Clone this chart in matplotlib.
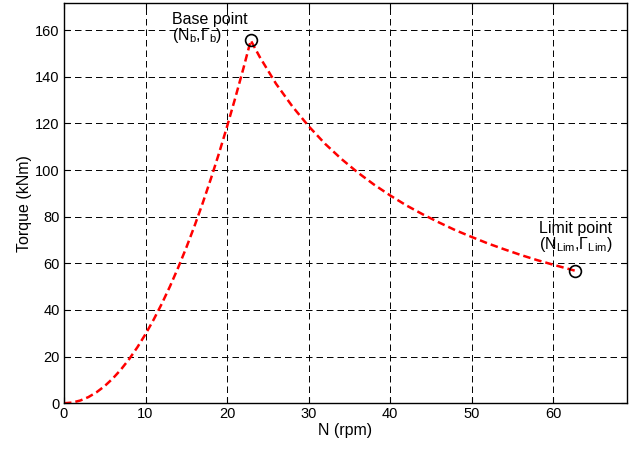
import matplotlib
matplotlib.use("Agg")
import matplotlib.pyplot as plt

plt.rcParams['font.family'] = ['Liberation Sans', 'DejaVu Sans']
plt.rcParams['mathtext.fontset'] = 'custom'
plt.rcParams['mathtext.rm'] = 'Liberation Sans'

# Torque-speed envelope: constant-torque ramp up to base speed, then constant power
speed_rpm = [0, 1, 2, 3, 4, 5, 6, 7, 8, 9, 10, 11, 12, 13, 14, 15, 16, 17, 18,
             19, 20, 21, 22, 22.9, 24, 26, 28, 30, 32, 34, 36, 38, 40, 42, 44,
             46, 48, 50, 52, 54, 56, 58, 60, 62.7]
torque_knm = [0, 0.30, 1.19, 2.67, 4.75, 7.42, 10.68, 14.54, 18.99, 24.03,
              29.67, 35.90, 42.73, 50.15, 58.16, 66.76, 75.96, 85.75, 96.14,
              107.1, 118.7, 130.9, 143.6, 155.6, 148.5, 137.0, 127.3, 118.8,
              111.3, 104.8, 99.0, 93.8, 89.1, 84.8, 81.0, 77.5, 74.2, 71.3,
              68.5, 66.0, 63.6, 61.4, 59.4, 56.8]

base_point = (22.9, 155.6)
limit_point = (62.7, 56.8)

x_ticks = [0, 10, 20, 30, 40, 50, 60]
y_ticks = [0, 20, 40, 60, 80, 100, 120, 140, 160]

fig = plt.figure(figsize=(6.43, 4.5), dpi=100)
ax = fig.add_axes([0.0995, 0.1038, 0.8752, 0.8889])

ax.plot(speed_rpm, torque_knm, color='red', linestyle=(0, (3, 1.6)), lw=1.8)
ax.plot(*base_point, 'o', mfc='none', mec='black', ms=8.5, mew=1.2)
ax.plot(*limit_point, 'o', mfc='none', mec='black', ms=8.5, mew=1.2)

ax.set_xlim(0, 69.0)
ax.set_ylim(0, 171.5)
ax.set_xticks(x_ticks)
ax.set_yticks(y_ticks)
ax.tick_params(direction='in', top=True, right=True, labelsize=10.5,
               length=4, width=0.8, pad=3)
ax.grid(True, color='black', linestyle=(0, (6.7, 4.1)), lw=0.7)
for s in ax.spines.values():
    s.set_linewidth(1.0)

ax.set_xlabel('N (rpm)', fontsize=11.5, labelpad=1)
ax.set_ylabel('Torque (kNm)', fontsize=11.5, labelpad=2)

ax.text(13.3, 167.8, 'Base point\n(N$_\\mathregular{b}$,Γ$_\\mathregular{b}$)',
        fontsize=11.5, va='top', ha='left', linespacing=0.95)
ax.text(58.3, 78.3, 'Limit point\n(N$_\\mathregular{Lim}$,Γ$_\\mathregular{Lim}$)',
        fontsize=11.5, va='top', ha='left', linespacing=0.95)

fig.savefig('out.png', dpi=100)
